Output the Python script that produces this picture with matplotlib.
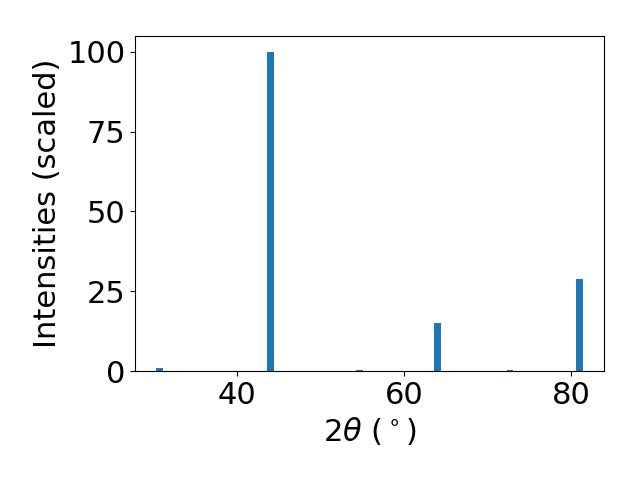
import matplotlib
matplotlib.use("Agg")
import matplotlib.pyplot as plt

# peak positions (2theta, deg) and scaled intensities
two_theta = [30.8, 44.05, 54.7, 64.0, 72.7, 81.0]
intensity = [0.9, 100.0, 0.3, 15.1, 0.3, 28.9]

fig, ax = plt.subplots(figsize=(6.4, 4.8), dpi=100)
ax.bar(two_theta, intensity, width=0.8, color='#1f77b4')

ax.set_xlabel(r'$2\theta$ ($^\circ$)', fontsize=22)
ax.set_ylabel('Intensities (scaled)', fontsize=22)
ax.tick_params(labelsize=22)
ax.set_yticks([0, 25, 50, 75, 100])

fig.subplots_adjust(left=0.211, right=0.944, top=0.925, bottom=0.227)
plt.savefig('out.png')
